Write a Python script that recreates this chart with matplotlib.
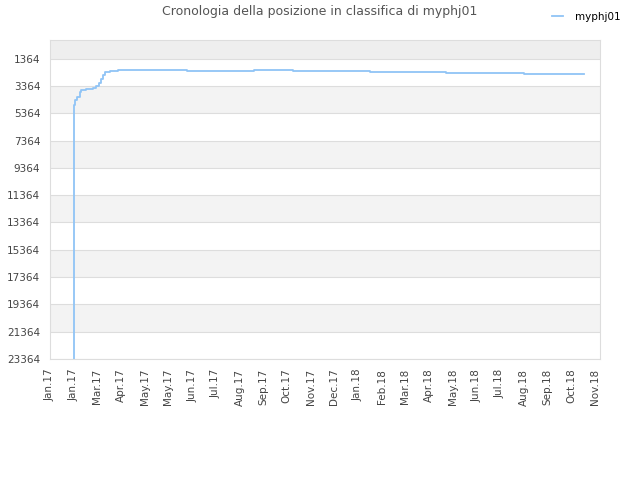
import matplotlib
matplotlib.use("Agg")
import matplotlib.pyplot as plt

# Data: day offsets (from first tick) and rank values (step changes)
days = [29.3, 29.3, 30.9, 33.4, 36.3, 38.2, 44.3, 52.5, 56.6, 59.5, 61.9, 64.7,
        67.6, 72.9, 83.1, 168.2, 250.4, 298.0, 392.1, 485.4, 580.3, 653.6]
ranks = [23364, 4789, 4422, 4173, 3806, 3637, 3564, 3491, 3395, 3146, 2831, 2537,
         2339, 2266, 2170, 2243, 2170, 2243, 2316, 2390, 2463, 2463]

tick_labels = ["Jan.17", "Jan.17", "Mar.17", "Apr.17", "May.17", "May.17", "Jun.17",
               "Jul.17", "Aug.17", "Sep.17", "Oct.17", "Nov.17", "Dec.17", "Jan.18",
               "Feb.18", "Mar.18", "Apr.18", "May.18", "Jun.18", "Jul.18", "Aug.18",
               "Sep.18", "Oct.18", "Nov.18"]
tick_step = 29.0
y_ticks = [1364, 3364, 5364, 7364, 9364, 11364, 13364, 15364, 17364, 19364, 21364, 23364]

series_name = "myphj01"
title = "Cronologia della posizione in classifica di myphj01"

fig = plt.figure(figsize=(6.4, 4.8), dpi=100)
ax = fig.add_axes([50/640, 1-359/480, 550/640, 319/480])

x_max = 673.5
ax.set_xlim(0, x_max)
ax.set_ylim(23364, 0)

# background bands
ax.axhspan(0, 1364, color="#eeeeee", zorder=0, lw=0)
for i in range(len(y_ticks) - 1):
    lo, hi = y_ticks[i], y_ticks[i + 1]
    if i % 2 == 1:
        ax.axhspan(lo, hi, color="#f3f3f3", zorder=0, lw=0)
for yt in y_ticks:
    ax.axhline(yt, color="#dddddd", lw=0.8, zorder=1)

ax.plot(days, ranks, drawstyle="steps-post", color="#90c4f6", lw=1.3,
        zorder=3, label=series_name)

ax.set_xticks([i * tick_step for i in range(len(tick_labels))])
ax.set_xticklabels(tick_labels, rotation=90, fontsize=7.5, color="#444444")
ax.set_yticks(y_ticks)
ax.set_yticklabels([str(v) for v in y_ticks], fontsize=7.5, color="#444444")
ax.tick_params(length=0, pad=7)

for s in ax.spines.values():
    s.set_color("#dddddd")
    s.set_linewidth(0.8)

fig.text(320/640, 1-12/480, title, ha="center", va="center", fontsize=9, color="#555555")
fig.legend(loc="upper right", bbox_to_anchor=(0.985, 0.995), frameon=False,
           fontsize=7.5, handlelength=1.0, handletextpad=1.2)

fig.savefig("out.png", dpi=100)
